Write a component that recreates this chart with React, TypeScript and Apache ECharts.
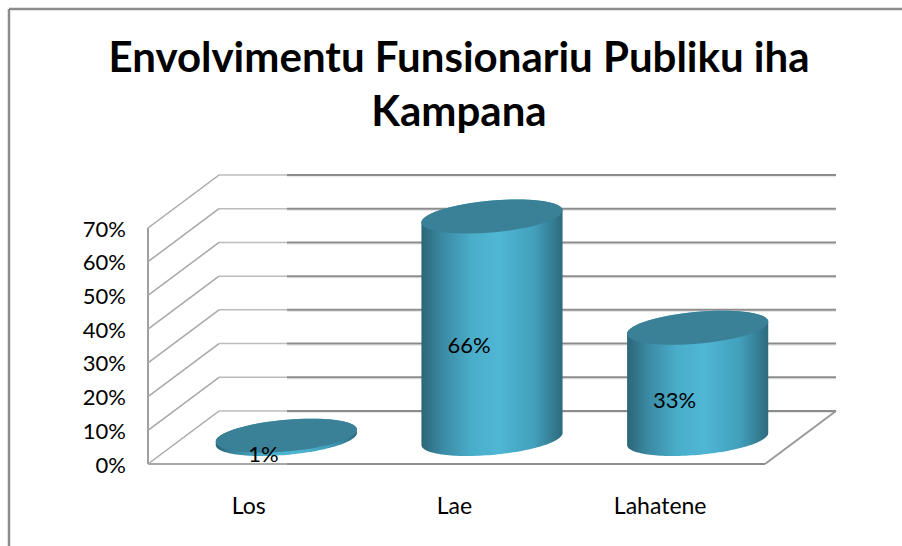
import React, { useEffect, useRef } from "react";
import * as echarts from "echarts";

const titleLines = ["Envolvimentu Funsionariu Publiku iha", "Kampana"];
const categories = ["Los", "Lae", "Lahatene"];
const values = [0.01, 0.66, 0.33];
const valueLabels = ["1%", "66%", "33%"];
const wallTicks = [0, 0.1, 0.2, 0.3, 0.4, 0.5, 0.6, 0.7];

const FONT = "Lato";
const DEPTH_X = 71;
const DEPTH_Y = -53;

function ellipsePoints(cx: number, cy: number, a: number, c: number, e: number, from = 0, to = Math.PI * 2) {
  const pts: number[][] = [];
  const n = 72;
  for (let i = 0; i <= n; i++) {
    const t = from + ((to - from) * i) / n;
    pts.push([cx + a * Math.cos(t) + c * Math.sin(t), cy - e * Math.sin(t)]);
  }
  return pts;
}

export default function App() {
  const ref = useRef<HTMLDivElement>(null);
  useEffect(() => {
    const chart = echarts.init(ref.current!, undefined, { renderer: "svg" });

    const renderWall = (params: any, api: any) => {
      const tick = api.value(0);
      const [x0, y] = api.coord([0, tick]);
      const band = api.size([1, 0])[0];
      const left = x0 - band / 2;
      const right = left + band * categories.length;
      const children: any[] = [
        {
          type: "line",
          shape: { x1: left, y1: y, x2: left + DEPTH_X, y2: y + DEPTH_Y },
          style: { stroke: "#a8a8a8", lineWidth: 1.5 },
        },
        {
          type: "line",
          shape: { x1: left + DEPTH_X, y1: y + DEPTH_Y, x2: left + DEPTH_X + 68, y2: y + DEPTH_Y },
          style: { stroke: "#bcbcbc", lineWidth: 1.5 },
        },
        {
          type: "line",
          shape: { x1: left + DEPTH_X + 68, y1: y + DEPTH_Y + 1.6, x2: right + DEPTH_X, y2: y + DEPTH_Y + 1.6 },
          style: { stroke: "#e6e6e6", lineWidth: 1 },
        },
        {
          type: "line",
          shape: { x1: left + DEPTH_X + 68, y1: y + DEPTH_Y, x2: right + DEPTH_X, y2: y + DEPTH_Y },
          style: { stroke: "#8c8c8c", lineWidth: 2 },
        },
      ];
      if (tick === 0) {
        children.push(
          { type: "line", shape: { x1: left, y1: y, x2: left + 139, y2: y }, style: { stroke: "#a8a8a8", lineWidth: 2 } },
          { type: "line", shape: { x1: left + 139, y1: y, x2: right, y2: y }, style: { stroke: "#8c8c8c", lineWidth: 2 } },
          { type: "line", shape: { x1: right, y1: y, x2: right + DEPTH_X, y2: y + DEPTH_Y }, style: { stroke: "#9a9a9a", lineWidth: 2 } },
          { type: "line", shape: { x1: left, y1: y, x2: left, y2: api.coord([0, 0.7])[1] }, style: { stroke: "#a0a0a0", lineWidth: 2 } },
        );
      }
      return { type: "group", children };
    };

    const renderCylinder = (params: any, api: any) => {
      const cat = api.value(0);
      const val = api.value(1);
      const [xb, yb] = api.coord([cat, 0]);
      const [, yt] = api.coord([cat, val]);
      const band = api.size([1, 0])[0];
      const rx = band * 0.343;
      const a = rx * 0.936;
      const c = rx * 0.353;
      const e = 17;
      const cx = xb + DEPTH_X / 2;
      const yBase = yb + DEPTH_Y / 2 + 1.5;
      const yTop = yt + DEPTH_Y / 2 + 1.5;
      const t0 = Math.atan2(c, a);
      const upper = ellipsePoints(cx, yTop, a, c, e, t0 + Math.PI, t0);
      const lower = ellipsePoints(cx, yBase, a, c, e, t0, t0 - Math.PI);
      const sidePts = upper.concat(lower);
      const [lx, ly] = api.coord([cat, val / 2]);
      return {
        type: "group",
        children: [
          {
            type: "polygon",
            shape: { points: sidePts },
            style: {
              fill: new echarts.graphic.LinearGradient(0, 0, 1, 0, [
                { offset: 0, color: "#2c6577" },
                { offset: 0.14, color: "#3a88a2" },
                { offset: 0.36, color: "#4aaeca" },
                { offset: 0.55, color: "#4fb6d4" },
                { offset: 0.8, color: "#42a0bc" },
                { offset: 1, color: "#2e6a7d" },
              ]),
            },
          },
          {
            type: "polygon",
            shape: { points: ellipsePoints(cx, yTop, a, c, e) },
            style: { fill: "#3a8197" },
          },
          {
            type: "text",
            x: lx + 12.5,
            y: ly - 8.5,
            style: {
              text: valueLabels[cat],
              font: `22px ${FONT}`,
              fill: "#000",
              align: "center",
              verticalAlign: "middle",
            },
          },
        ],
      };
    };

    chart.setOption({
      animation: false,
      backgroundColor: "#fff",
      title: {
        text: titleLines.join("\n"),
        left: 454,
        top: 24,
        textAlign: "center",
        textStyle: { fontFamily: FONT, fontWeight: "bold", fontSize: 42, lineHeight: 54, color: "#000" },
      },
      graphic: [
        { type: "line", shape: { x1: 9, y1: 9, x2: 902, y2: 9 }, style: { stroke: "#8c8c8c", lineWidth: 2.5 } },
        { type: "line", shape: { x1: 9, y1: 9, x2: 9, y2: 546 }, style: { stroke: "#8c8c8c", lineWidth: 2.5 } },
      ],
      grid: { left: 148, right: 137, top: 228, bottom: 82 },
      xAxis: {
        type: "category",
        data: categories,
        axisLine: { show: false },
        axisTick: { show: false },
        axisLabel: { fontFamily: FONT, fontSize: 23, color: "#000", margin: 29, padding: [0, 4, 0, 0] },
      },
      yAxis: {
        type: "value",
        min: 0,
        max: 0.7,
        interval: 0.1,
        splitLine: { show: false },
        axisLine: { show: false },
        axisTick: { show: false },
        axisLabel: {
          fontFamily: FONT,
          fontSize: 22,
          color: "#000",
          margin: 22,
          formatter: (v: number) => `${Math.round(v * 100)}%`,
        },
      },
      series: [
        {
          type: "custom",
          coordinateSystem: "cartesian2d",
          renderItem: renderWall,
          data: wallTicks.map((t) => [t]),
          encode: { y: 0 },
          silent: true,
          z: 1,
        },
        {
          type: "custom",
          coordinateSystem: "cartesian2d",
          renderItem: renderCylinder,
          data: values.map((v, i) => [i, v]),
          encode: { x: 0, y: 1 },
          silent: true,
          z: 2,
        },
      ],
    });
    return () => chart.dispose();
  }, []);
  return <div ref={ref} style={{ position: "fixed", left: 0, top: 0, width: 902, height: 546 }} />;
}
